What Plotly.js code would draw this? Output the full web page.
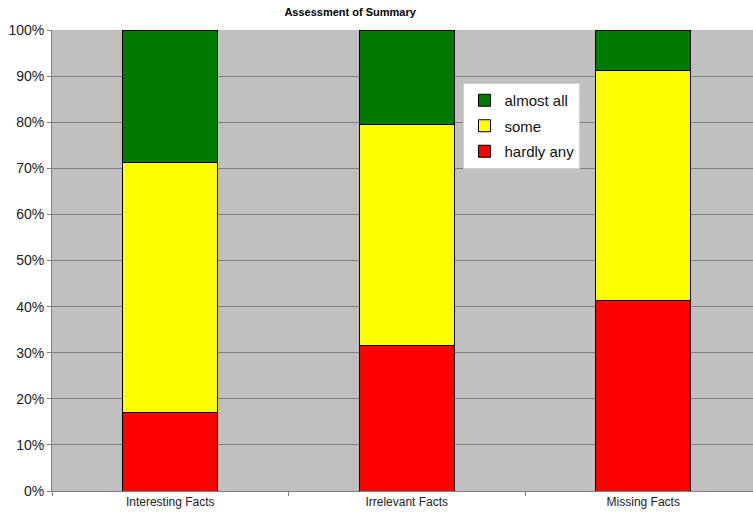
<!DOCTYPE html>
<html>
<head>
<meta charset="utf-8">
<script src="https://cdn.plot.ly/plotly-3.0.1.min.js"></script>
<style>html,body{margin:0;padding:0;background:#fff;}#chart{width:753px;height:520px;}</style>
</head>
<body>
<div id="chart"></div>
<script>
const categories = ["Interesting Facts", "Irrelevant Facts", "Missing Facts"];
const hardlyAny = [17, 31.5, 41.3];
const some = [54.2, 48.1, 50.0];
const almostAll = [28.8, 20.4, 8.7];
const seriesNames = ["hardly any", "some", "almost all"];
const seriesColors = ["#ff0000", "#ffff00", "#007a00"];
const legendRanks = [3, 2, 1];
const yTickVals = [0, 10, 20, 30, 40, 50, 60, 70, 80, 90, 100];
const yTickText = ["0%", "10%", "20%", "30%", "40%", "50%", "60%", "70%", "80%", "90%", "100%"];

const seriesValues = [hardlyAny, some, almostAll];
const traces = seriesValues.map((vals, i) => ({
  type: "bar",
  name: seriesNames[i],
  legendgroup: "g" + i,
  legendrank: legendRanks[i],
  x: categories,
  y: vals,
  width: 0.4,
  marker: { color: seriesColors[i], line: { color: "#000", width: 1 } },
  hoverinfo: "skip"
}));

const layout = {
  width: 753,
  height: 520,
  barmode: "stack",
  paper_bgcolor: "#ffffff",
  plot_bgcolor: "#c0c0c0",
  margin: { l: 52, r: 0, t: 30, b: 29, pad: 0 },
  title: {
    text: "<b>Assessment of Summary</b>",
    font: { family: "Liberation Sans Narrow, Arial Narrow, Liberation Sans, sans-serif", size: 11, color: "#000" },
    x: 0.465, xref: "container", xanchor: "center",
    y: 0.985, yref: "container", yanchor: "top"
  },
  font: { family: "Liberation Sans, Arial, sans-serif", color: "#111" },
  xaxis: {
    type: "category",
    range: [-0.5, 2.464],
    tickson: "boundaries",
    ticks: "outside",
    ticklen: 4,
    tickcolor: "#808080",
    showgrid: false,
    showline: true,
    linecolor: "#808080",
    linewidth: 1,
    tickfont: { size: 12, color: "#222" },
    fixedrange: true
  },
  yaxis: {
    range: [0, 100],
    tickmode: "array",
    tickvals: yTickVals,
    ticktext: yTickText,
    ticks: "outside",
    ticklen: 4,
    tickcolor: "#808080",
    showgrid: true,
    gridcolor: "#808080",
    gridwidth: 1,
    showline: true,
    linecolor: "#808080",
    linewidth: 1,
    zeroline: false,
    tickfont: { size: 14, color: "#222" },
    fixedrange: true
  },
  showlegend: true,
  legend: {
    x: 0.587, xanchor: "left",
    y: 0.885, yanchor: "top",
    bgcolor: "#ffffff",
    bordercolor: "#d0d0d0",
    borderwidth: 1,
    traceorder: "grouped",
    tracegroupgap: 3,
    font: { size: 15, color: "#111" },
    itemwidth: 30
  }
};

Plotly.newPlot("chart", traces, layout, { displayModeBar: false, staticPlot: true });
</script>
</body>
</html>
